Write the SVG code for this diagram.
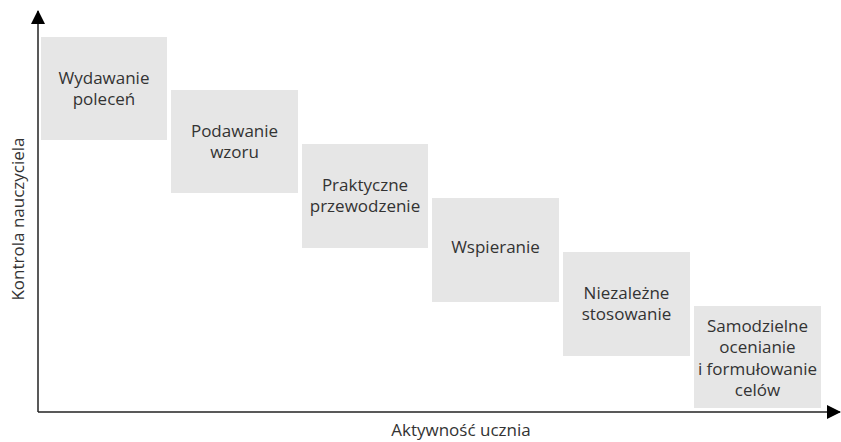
<svg xmlns="http://www.w3.org/2000/svg" width="841" height="442" viewBox="0 0 841 442">
<style>
.box{fill:#e6e6e6}
.t{font-family:"Open Sans","Noto Sans",sans-serif;font-size:17px;fill:#333;text-anchor:middle}
.ax{stroke:#222;stroke-width:1.5;fill:none}
</style>
<defs>
<marker id="ah" markerWidth="14" markerHeight="14" refX="13" refY="7" orient="auto" markerUnits="userSpaceOnUse" viewBox="0 0 14 14">
<path d="M0,0 L14,7 L0,14 Z" fill="#000"/>
</marker>
</defs>
<rect width="841" height="442" fill="#fff"/>
<g id="connectors">
<line class="ax" x1="38" y1="412" x2="38" y2="11" marker-end="url(#ah)"/>
<line class="ax" x1="38" y1="412" x2="840" y2="412" marker-end="url(#ah)"/>
</g>
<g id="n1"><rect class="box" x="41" y="37" width="126" height="103"/>
<text class="t" x="104" y="84">Wydawanie</text><text class="t" x="104" y="105">poleceń</text></g>
<g id="n2"><rect class="box" x="171" y="90" width="127" height="103"/>
<text class="t" x="234.5" y="137">Podawanie</text><text class="t" x="234.5" y="158">wzoru</text></g>
<g id="n3"><rect class="box" x="302" y="144" width="126" height="104"/>
<text class="t" x="365" y="191">Praktyczne</text><text class="t" x="365" y="212">przewodzenie</text></g>
<g id="n4"><rect class="box" x="432" y="198" width="127" height="104"/>
<text class="t" x="495.5" y="253">Wspieranie</text></g>
<g id="n5"><rect class="box" x="563" y="252" width="127" height="104"/>
<text class="t" x="626.5" y="299">Niezależne</text><text class="t" x="626.5" y="320">stosowanie</text></g>
<g id="n6"><rect class="box" x="694" y="306" width="127" height="102"/>
<text class="t" x="757.5" y="332">Samodzielne</text><text class="t" x="757.5" y="353">ocenianie</text><text class="t" x="757.5" y="375">i formułowanie</text><text class="t" x="757.5" y="396">celów</text></g>
<text class="t" x="461" y="436">Aktywność ucznia</text>
<text class="t" transform="translate(24,219) rotate(-90)">Kontrola nauczyciela</text>
</svg>
